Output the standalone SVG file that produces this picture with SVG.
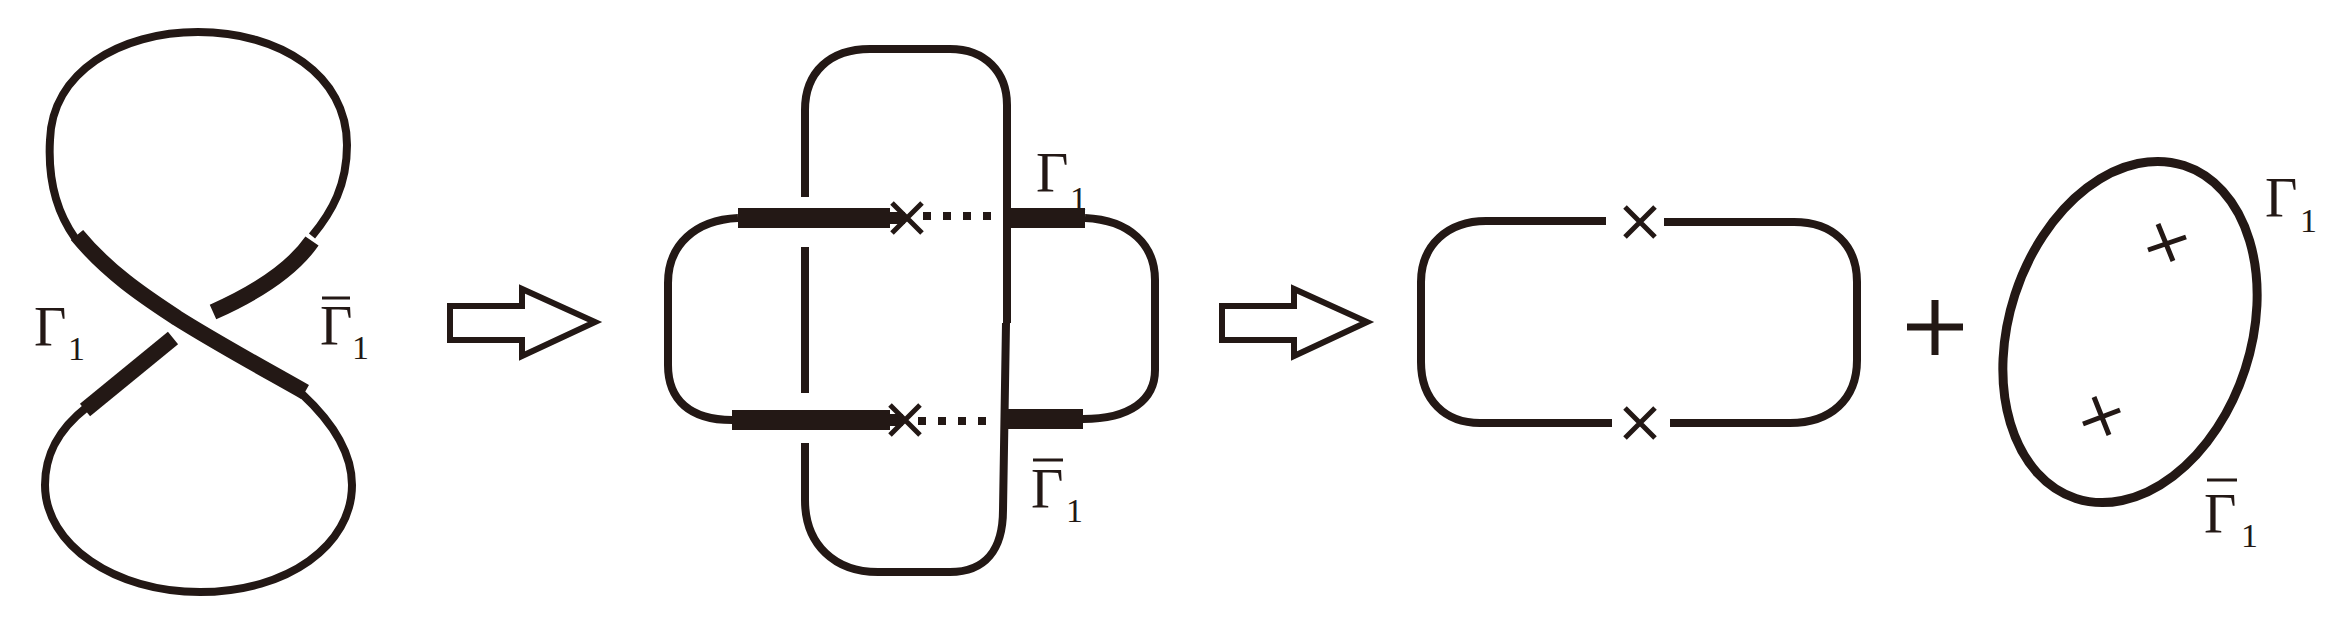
<svg xmlns="http://www.w3.org/2000/svg" width="2348" height="631" viewBox="0 0 2348 631">
<defs>
<style>
.thin{fill:none;stroke:#231815;stroke-width:8;stroke-linecap:butt;stroke-linejoin:round}
.thick{fill:none;stroke:#231815;stroke-width:16;stroke-linecap:butt}
.bar{fill:none;stroke:#231815;stroke-width:20;stroke-linecap:butt}
.tip{fill:none;stroke:#231815;stroke-width:12;stroke-linecap:butt}
.x{fill:none;stroke:#231815;stroke-width:5;stroke-linecap:butt}
.dots{fill:none;stroke:#231815;stroke-width:8;stroke-dasharray:8 12}
.blk{fill:#fff;stroke:#231815;stroke-width:6;stroke-linejoin:miter}
.g{font-family:"Liberation Serif","Times New Roman",serif;font-size:56px;fill:#231815}
.s{font-family:"Liberation Serif","Times New Roman",serif;font-size:34px;fill:#231815}
.ov{stroke:#231815;stroke-width:3}
</style>
</defs>
<rect width="2348" height="631" fill="#fff"/>

<g id="figure-eight">
<path class="thin" d="M75,238 C55,210 48,175 50,140 C52,72 120,32 198,32 C280,32 347,75 347,145 C347,185 332,212 312,236"/>
<path class="thin" d="M87,407 C55,432 45,458 45,485 C45,545 115,592 200,592 C288,592 352,545 352,485 C352,450 330,420 302,394"/>
<path class="thick" d="M77,235 C110,275 150,300 177,318 C220,345 270,372 305,392"/>
<path class="thick" d="M312,241 Q285,280 213,312"/>
<path class="thick" d="M173,338 L85,410"/>
<text class="g" x="34" y="346">Γ</text><text class="s" x="68" y="360">1</text>
<line class="ov" x1="322" y1="298" x2="350" y2="298"/>
<text class="g" x="320" y="345">Γ</text><text class="s" x="352" y="359">1</text>
</g>

<g id="middle-knot">
<text class="g" x="1036" y="192">Γ</text><text class="s" x="1070" y="210">1</text>
<line class="ov" x1="1033" y1="460" x2="1063" y2="460"/>
<text class="g" x="1031" y="508">Γ</text><text class="s" x="1066" y="522">1</text>
<path class="thin" d="M805,197 L805,110 C805,72 830,49 870,49 L950,49 C985,49 1007,72 1007,105 L1007,323"/>
<path class="thin" d="M1006,323 L1003,510 C1003,550 985,572 950,572 L878,572 C835,572 805,545 805,500 L805,443"/>
<line class="thin" x1="805" y1="247" x2="805" y2="393"/>
<path class="thin" d="M738,218 C695,220 668,245 668,283 L668,365 C668,400 690,420 732,420"/>
<path class="thin" d="M1085,218 C1130,220 1155,245 1155,280 L1155,370 C1155,400 1130,419 1083,419"/>
<line class="bar" x1="738" y1="218" x2="890" y2="218"/>
<line class="tip" x1="888" y1="218" x2="905" y2="218"/>
<path class="x" d="M892,203 L922,233 M922,203 L892,233"/>
<line class="dots" x1="923" y1="216" x2="995" y2="216"/>
<line class="bar" x1="1008" y1="218" x2="1085" y2="218"/>
<line class="bar" x1="732" y1="420" x2="890" y2="420"/>
<line class="tip" x1="888" y1="420" x2="903" y2="420"/>
<path class="x" d="M890,405 L920,435 M920,405 L890,435"/>
<line class="dots" x1="918" y1="421" x2="990" y2="421"/>
<line class="bar" x1="1006" y1="419" x2="1083" y2="419"/>
</g>

<g id="connectors">
<polygon class="blk" points="450,306 522,306 522,289 595,322 522,356 522,340 450,340"/>
<polygon class="blk" points="1222,306 1294,306 1294,289 1367,322 1294,356 1294,340 1222,340"/>
</g>

<g id="open-loop">
<path class="thin" d="M1606,221 L1486,221 C1448,221 1421,245 1421,282 L1421,362 C1421,400 1445,423 1480,423 L1612,423"/>
<path class="thin" d="M1664,222 L1794,222 C1833,222 1857,245 1857,282 L1857,360 C1857,400 1830,423 1790,423 L1670,423"/>
<path class="x" d="M1625,207 L1655,237 M1655,207 L1625,237"/>
<path class="x" d="M1625,408 L1655,438 M1655,408 L1625,438"/>
</g>

<g id="plus">
<path fill="none" stroke="#231815" stroke-width="7" d="M1907,327 H1963 M1935,300 V355"/>
</g>

<g id="closed-loop">
<ellipse class="thin" style="stroke-width:9" cx="2130" cy="332" rx="121" ry="175" transform="rotate(18 2130 332)"/>
<path class="x" d="M2148,250 L2186,237 M2158,224 L2173,261"/>
<path class="x" d="M2083,424 L2120,410 M2094,397 L2109,435"/>
<text class="g" x="2265" y="217">Γ</text><text class="s" x="2300" y="232">1</text>
<line class="ov" x1="2207" y1="480" x2="2237" y2="480"/>
<text class="g" x="2204" y="533">Γ</text><text class="s" x="2241" y="547">1</text>
</g>
</svg>
